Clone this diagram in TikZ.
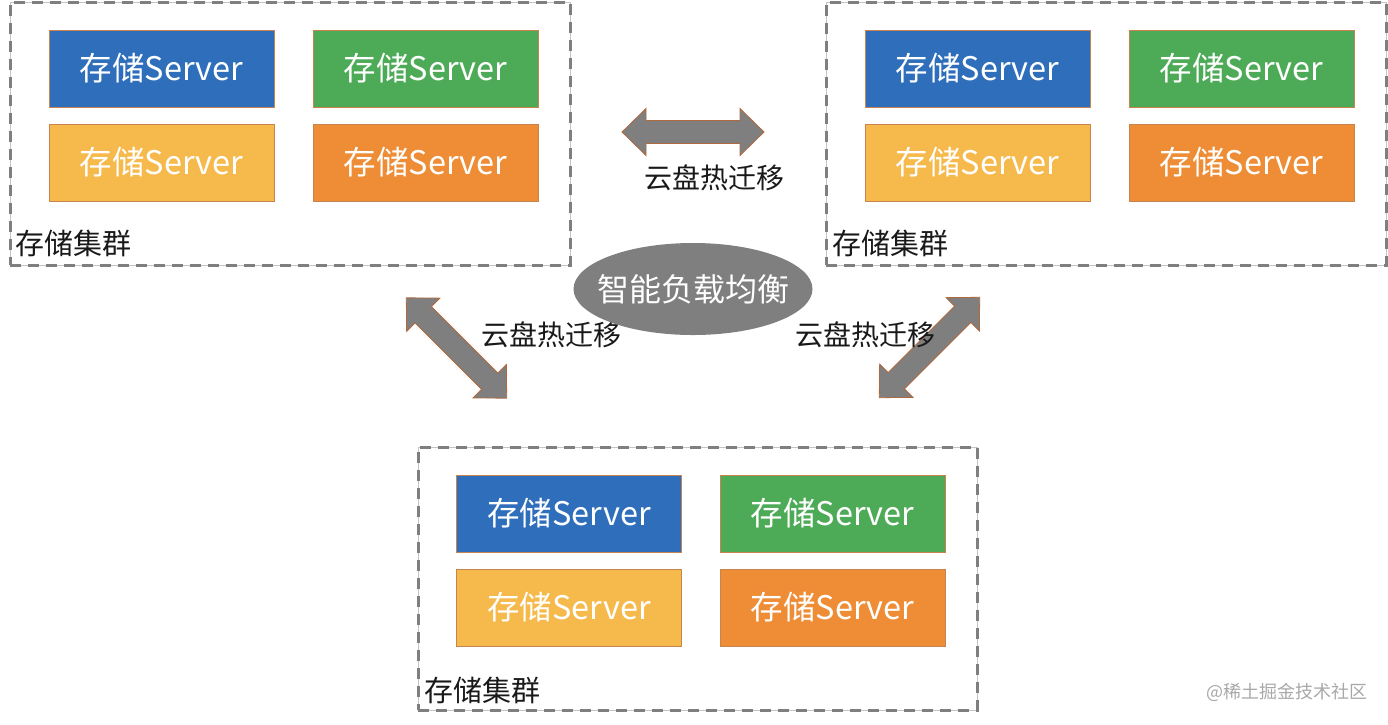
\documentclass[tikz,border=0pt]{standalone}
\usepackage{fontspec}
\setmainfont{Noto Sans CJK SC}
\usetikzlibrary{shapes.geometric}
\definecolor{cblue}{HTML}{2E6EBB}
\definecolor{cgreen}{HTML}{4DAA57}
\definecolor{cyellow}{HTML}{F6B94B}
\definecolor{corange}{HTML}{EE8D35}
\definecolor{srvedge}{HTML}{C8844E}
\definecolor{dashgray}{HTML}{7F7F7F}
\definecolor{thingray}{HTML}{C4C4C4}
\definecolor{arrowfill}{HTML}{7F7F7F}
\definecolor{arrowedge}{HTML}{B0693C}
\definecolor{ellfill}{HTML}{7F7F7F}
\definecolor{wmgray}{HTML}{A8A8A8}
\tikzset{
  srv/.style={draw=srvedge, line width=0.8pt, minimum width=225pt, minimum height=77pt, inner sep=0pt, text=white, font=\fontsize{32.5}{38}\selectfont},
  cluster/.style={draw=thingray, line width=0.8pt, inner sep=0pt,
    postaction={draw=dashgray, line width=3pt, dash pattern=on 11pt off 7pt}},
  clabel/.style={anchor=west, inner sep=0pt, text=black!90, font=\fontsize{29}{33}\selectfont},
  mlabel/.style={inner sep=0pt, text=black!90, font=\fontsize{28}{32}\selectfont},
  blockarrow/.style={fill=arrowfill, draw=arrowedge, line width=0.8pt, line join=miter}
}
\newcommand\blockarr[2]{\filldraw[blockarrow, shift={(#1)}, rotate=#2] (-71,0) -- (-47,-23.5) -- (-47,-11.5) -- (47,-11.5) -- (47,-23.5) -- (71,0) -- (47,23.5) -- (47,11.5) -- (-47,11.5) -- (-47,23.5) -- cycle;}
\begin{document}
\begin{tikzpicture}[x=1pt, y=-1pt]
\useasboundingbox (0,0) rectangle (1388,724);
% clusters
\node (c1) [cluster, minimum width=560pt, minimum height=263pt] at (290,133.5) {};
\node (c2) [cluster, minimum width=560pt, minimum height=263pt] at (1106,133.5) {};
\node (c3) [cluster, minimum width=559pt, minimum height=263pt] at (697.5,578.5) {};
% servers cluster 1
\node (a1) [srv, fill=cblue] at (161.5,68.5) {存储Server};
\node (a2) [srv, fill=cgreen] at (425.5,68.5) {存储Server};
\node (a3) [srv, fill=cyellow] at (161.5,162.5) {存储Server};
\node (a4) [srv, fill=corange] at (425.5,162.5) {存储Server};
% servers cluster 2
\node (b1) [srv, fill=cblue] at (977.5,68.5) {存储Server};
\node (b2) [srv, fill=cgreen] at (1241.5,68.5) {存储Server};
\node (b3) [srv, fill=cyellow] at (977.5,162.5) {存储Server};
\node (b4) [srv, fill=corange] at (1241.5,162.5) {存储Server};
% servers cluster 3
\node (d1) [srv, fill=cblue] at (569,513.5) {存储Server};
\node (d2) [srv, fill=cgreen] at (832.5,513.5) {存储Server};
\node (d3) [srv, fill=cyellow] at (569,607.5) {存储Server};
\node (d4) [srv, fill=corange] at (832.5,607.5) {存储Server};
% cluster labels
\node (l1) [clabel] at (15,243) {存储集群};
\node (l2) [clabel] at (832,243) {存储集群};
\node (l3) [clabel] at (424,690) {存储集群};
% block arrows
\blockarr{693,132}{0}
\blockarr{456.5,348}{-45}
\blockarr{929.5,347.5}{45}
% migration labels
\node (m1) [mlabel] at (714,178) {云盘热迁移};
\node (m2) [mlabel] at (551,335) {云盘热迁移};
\node (m3) [mlabel] at (865,335) {云盘热迁移};
% central ellipse
\node (lb) [ellipse, fill=ellfill, minimum width=239pt, minimum height=92pt, inner sep=0pt] at (693,289) {};
\node (lbt) [inner sep=0pt, text=white, font=\fontsize{32}{36}\selectfont] at (lb.center) {智能负载均衡};
% watermark
\node (wm) [anchor=east, inner sep=0pt, text=wmgray, font=\fontsize{18}{22}\selectfont] at (1368,692) {@稀土掘金技术社区};
\end{tikzpicture}
\end{document}
